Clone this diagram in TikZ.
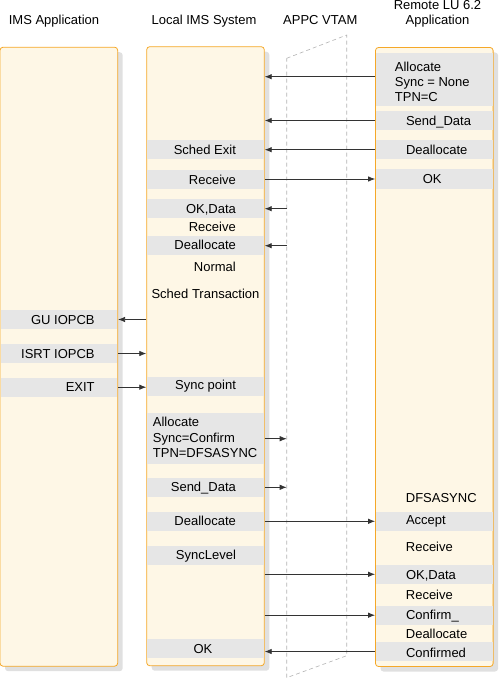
\documentclass[tikz,border=0pt]{standalone}
\usepackage{fontspec}
\setmainfont{Liberation Sans}
\usepackage{xcolor}
\usepackage{tikz}
\usetikzlibrary{arrows.meta,positioning,shadows}
\definecolor{imsorange}{RGB}{245,168,40}
\definecolor{imscream}{RGB}{254,247,230}
\definecolor{imsgray}{RGB}{230,230,230}
\tikzset{
    lane/.style={draw=imsorange, fill=imscream, line width=0.8pt, rounded corners=3pt, minimum width=117.6pt, minimum height=619pt, inner sep=0pt, drop shadow={shadow xshift=5pt, shadow yshift=-5pt, fill=black!12, opacity=1}},
    band/.style={fill=imsgray, minimum width=116.6pt, minimum height=19pt, inner sep=0pt},
    msg/.style={font=\fontsize{13}{15.3}\selectfont, inner sep=0pt, text height=9.3pt, text depth=0pt},
    multi/.style={font=\fontsize{13}{15.3}\selectfont, inner sep=0pt, align=left},
    line/.style={draw=black!80, line width=0.8pt, -{Latex[length=7pt,width=5.5pt]}},
    vtam/.style={draw=gray!60, dash pattern=on 4pt off 3pt, line width=0.6pt}
}

\begin{document}
\begin{tikzpicture}[x=1pt, y=-1pt]
    \useasboundingbox (0,0) rectangle (499,679);

    % Column headings
    \node [msg] (happ) at (54,20.3) {IMS Application};
    \node [msg] (hloc) at (204,20.3) {Local IMS System};
    \node [msg] (hvtam) at (320.3,20.3) {APPC VTAM};
    \node [multi, align=center, anchor=north] (hrem) at (437.5,0.3) {Remote LU 6.2\\Application};

    % Lanes
    \node [lane] (app) at (58.85,356.7) {};
    \node [lane] (lims) at (205.5,356.2) {};
    \node [lane] (rlu) at (434.3,357) {};

    % APPC VTAM outline
    \coordinate (vtl) at (286.7,58.3);
    \coordinate (vtr) at (346.7,35);
    \coordinate (vbr) at (346.7,655.7);
    \coordinate (vbl) at (286.7,677.7);
    \draw [vtam] (vtl) -- (vtr) -- (vbr) -- (vbl) -- cycle;

    % IMS application bands
    \node [band] (agu) at (58.85,319.5) {};
    \node [band] (aisrt) at (58.85,353.5) {};
    \node [band] (aexit) at (58.85,387.2) {};
    \node [msg, left=22.5pt of agu.east] {GU IOPCB};
    \node [msg, left=22.5pt of aisrt.east] {ISRT IOPCB};
    \node [msg, left=22.5pt of aexit.east] {EXIT};

    % Local IMS bands
    \node [band] (lsched) at (205.5,149.7) {};
    \node [band] (lrecv) at (205.5,179.7) {};
    \node [band] (lokd) at (205.5,208.7) {};
    \node [band] (ldeal) at (205.5,245.7) {};
    \node [band] (lsync) at (205.5,386.7) {};
    \node [band, minimum height=50.7pt] (lalloc) at (205.5,438.7) {};
    \node [band] (lsend) at (205.5,487.3) {};
    \node [band] (ldeal2) at (205.5,521.3) {};
    \node [band] (llevel) at (205.5,555.3) {};
    \node [band] (lok) at (205.5,648) {};
    \node [msg, left=27.9pt of lsched.east] {Sched Exit};
    \node [msg, left=27.9pt of lrecv.east] {Receive};
    \node [msg, left=27.9pt of lokd.east] {OK,Data};
    \node [msg, anchor=east] (lrecv2) at (236,227.3) {Receive};
    \node [msg, left=27.9pt of ldeal.east, yshift=1.3pt] {Deallocate};
    \node [msg, anchor=east] (lnorm) at (236,267.3) {Normal};
    \node [msg] (ltrans) at (205.5,293.5) {Sched Transaction};
    \node [msg, left=27.9pt of lsync.east, yshift=1.5pt] {Sync point};
    \node [multi, anchor=north west] at (152.7,417.3) {Allocate\\Sync=Confirm\\TPN=DFSASYNC};
    \node [msg, left=27.9pt of lsend.east] {Send\_Data};
    \node [msg, left=27.9pt of ldeal2.east] {Deallocate};
    \node [msg, left=27.9pt of llevel.east] {SyncLevel};
    \node [msg, yshift=-1.3pt] at (203,648) {OK};

    % Remote LU 6.2 bands
    \node [band, minimum height=52.7pt] (ralloc) at (434.3,79.7) {};
    \node [band] (rsend) at (434.3,120.5) {};
    \node [band] (rdeal) at (434.3,149.7) {};
    \node [band] (rok) at (434.3,179) {};
    \node [band] (racc) at (434.3,521.5) {};
    \node [band] (rokd) at (434.3,574.3) {};
    \node [band] (rconf) at (434.3,615.2) {};
    \node [band] (rcfd) at (434.3,651.5) {};
    \node [multi, anchor=north west] at (394.7,61.7) {Allocate\\Sync = None\\TPN=C};
    \node [msg, right=30pt of rsend.west] {Send\_Data};
    \node [msg, right=30pt of rdeal.west] {Deallocate};
    \node [msg] at (432.2,179) {OK};
    \node [msg, anchor=west] (rdfs) at (405.7,498.3) {DFSASYNC};
    \node [msg, right=30pt of racc.west, yshift=1.5pt] {Accept};
    \node [msg, anchor=west] (rrecv) at (405.7,547.3) {Receive};
    \node [msg, right=30pt of rokd.west, yshift=-1pt] {OK,Data};
    \node [msg, anchor=west] (rrecv2) at (405.7,595.3) {Receive};
    \node [msg, right=30pt of rconf.west] {Confirm\_};
    \node [msg, anchor=west] (rdeal2) at (405.7,634.3) {Deallocate};
    \node [msg, right=30pt of rcfd.west, yshift=-1.8pt] {Confirmed};

    % Connections
    \path [line] ([yshift=3pt]rlu.west |- ralloc) -- ([yshift=3pt]lims.east |- ralloc);
    \foreach \x in {rsend,rdeal,rcfd}
        \path [line] (rlu.west |- \x) -- (lims.east |- \x);
    \foreach \x in {rok,ldeal2,rokd,rconf}
        \path [line] (lims.east |- \x) -- (rlu.west |- \x);
    \foreach \x in {lokd,ldeal}
        \path [line] (vtl |- \x) -- (lims.east |- \x);
    \foreach \x in {lalloc,lsend}
        \path [line] (lims.east |- \x) -- (vtl |- \x);
    \path [line] (lims.west |- agu) -- (app.east |- agu);
    \foreach \x in {aisrt,aexit}
        \path [line] (app.east |- \x) -- (lims.west |- \x);
\end{tikzpicture}
\end{document}
